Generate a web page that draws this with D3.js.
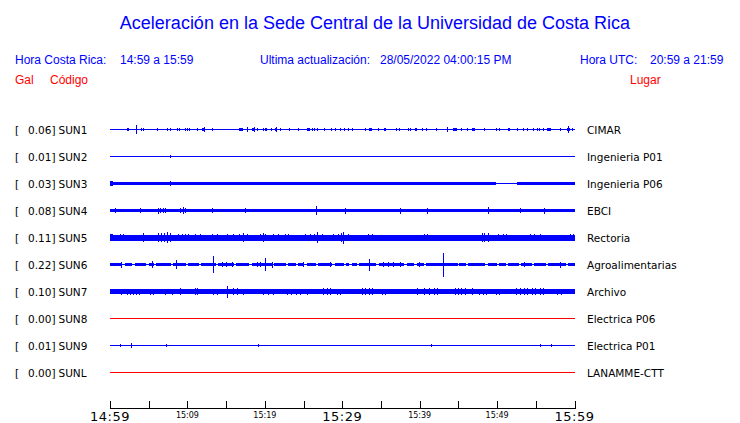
<!DOCTYPE html>
<html><head><meta charset="utf-8">
<script src="https://cdn.jsdelivr.net/npm/d3@7"></script>
<style>
html,body{margin:0;padding:0;background:#fff;}
svg{display:block;}
</style></head>
<body>
<script>
// ---------- DATA ----------
const title = "Aceleración en la Sede Central de la Universidad de Costa Rica";
const header = {
  crLabel: "Hora Costa Rica:", crRange: "14:59 a 15:59",
  updLabel: "Ultima actualización:", updValue: "28/05/2022 04:00:15 PM",
  utcLabel: "Hora UTC:", utcRange: "20:59 a 21:59"
};
const colHeads = ["Gal", "Código", "Lugar"];

const codes  = ["SUN1","SUN2","SUN3","SUN4","SUN5","SUN6","SUN7","SUN8","SUN9","SUNL"];
const places = ["CIMAR","Ingenieria P01","Ingenieria P06","EBCI","Rectoria","Agroalimentarias","Archivo","Electrica P06","Electrica P01","LANAMME-CTT"];
const peaks  = ["0.06","0.01","0.03","0.08","0.11","0.22","0.10","0.00","0.01","0.00"];
const traceColors = ["blue","blue","blue","blue","blue","blue","blue","red","blue","red"];

// time axis in minutes after 14:59
const tickMinutes = [0,5,10,15,20,25,30,35,40,45,50,55,60];
const bigLabels   = [[0,"14:59"],[30,"15:29"],[60,"15:59"]];
const smallLabels = [[10,"15:09"],[20,"15:19"],[40,"15:39"],[50,"15:49"]];

// background noise band per station: [startMin, endMin, amplitude (gal)]
const sun1Band = [[0,60,0.018]];
const sun2Band = [[0,60,0.005]];
const sun3Band = [[0,49.9,0.036],[49.9,52.6,0.007],[52.6,60,0.036]];
const sun4Band = [[0,60,0.035]];
const sun5Band = [[0,60,0.055]];
const sun6Band = [[0,1.6,0.03],[1.9,2.9,0.03],[3.2,4.7,0.03],[5.0,5.7,0.03],[6.0,7.9,0.03],[8.2,9.8,0.03],[10.1,11.5,0.03],[11.8,13.7,0.03],[14.0,16.0,0.03],[16.3,18.0,0.03],[18.3,20.9,0.03],[21.2,22.7,0.03],[23.0,24.0,0.03],[24.3,25.1,0.03],[25.4,26.6,0.03],[26.9,28.7,0.03],[29.0,30.2,0.03],[30.5,30.9,0.03],[31.2,31.9,0.03],[32.2,34.4,0.03],[34.7,38.0,0.03],[38.3,39.3,0.03],[39.6,40.5,0.03],[40.8,44.8,0.03],[45.1,46.0,0.03],[46.3,48.5,0.03],[48.8,50.0,0.03],[50.3,51.1,0.03],[51.4,52.8,0.03],[53.1,54.5,0.03],[54.8,56.3,0.03],[56.6,58.9,0.03],[59.2,60,0.03],[0,60,0.005]];
const sun7Band = [[0,60,0.042]];
const sun8Band = [[0,60,0.004]];
const sun9Band = [[0,60,0.004]];
const sunLBand = [[0,60,0.004]];

// transient events per station: [startMin, endMin, amplitude (gal)]
const sun1Events = [[0.1,0.4,0.015],[2.2,2.5,0.03],[3.4,3.4,0.075],[4.0,4.0,0.025],[4.3,4.3,0.025],[6.1,6.1,0.025],[7.4,7.4,0.025],[7.7,7.7,0.025],[8.6,8.6,0.025],[8.9,8.9,0.025],[9.7,9.7,0.025],[9.9,9.9,0.025],[10.2,10.2,0.025],[11.2,11.2,0.025],[11.9,12.1,0.03],[12.1,12.1,0.05],[13.2,13.2,0.025],[16.6,17.2,0.03],[17.7,17.7,0.05],[18.3,18.6,0.035],[18.6,18.6,0.045],[19.0,19.0,0.025],[19.7,19.7,0.025],[20.0,20.3,0.03],[20.8,20.8,0.025],[21.3,21.5,0.035],[21.5,21.5,0.045],[21.9,21.9,0.03],[23.1,23.1,0.025],[24.3,24.3,0.025],[25.5,25.8,0.03],[26.1,26.1,0.025],[26.3,26.3,0.025],[26.7,26.7,0.025],[27.6,27.6,0.025],[28.5,28.5,0.025],[29.0,29.0,0.025],[29.7,29.7,0.025],[30.2,30.2,0.025],[30.8,30.8,0.025],[31.2,31.2,0.025],[32.9,32.9,0.025],[33.4,33.8,0.03],[34.6,34.6,0.025],[35.4,35.6,0.03],[36.9,36.9,0.025],[37.3,37.3,0.025],[38.5,38.5,0.025],[38.8,38.8,0.025],[39.4,39.6,0.03],[40.3,40.3,0.025],[40.8,40.9,0.03],[42.1,42.1,0.025],[43.5,43.5,0.05],[44.3,44.8,0.03],[45.4,45.4,0.025],[46.1,46.3,0.03],[46.8,47.1,0.03],[48.3,48.3,0.025],[49.9,49.9,0.025],[50.2,50.2,0.025],[51.4,51.4,0.025],[51.5,51.5,0.025],[52.6,52.6,0.025],[53.4,53.4,0.025],[53.9,53.9,0.025],[54.7,54.7,0.025],[55.1,55.1,0.025],[55.4,55.4,0.025],[55.9,55.9,0.025],[56.5,56.9,0.03],[58.1,58.1,0.025],[59.0,59.4,0.03],[59.1,59.1,0.06],[59.7,59.7,0.025]];
const sun2Events = [[7.7,7.7,0.02]];
const sun3Events = [[0,0.4,0.046],[7.7,7.7,0.05]];
const sun4Events = [[0.6,0.6,0.045],[3.9,3.9,0.045],[6.2,6.2,0.055],[6.5,6.5,0.05],[6.8,6.8,0.05],[7.1,7.1,0.045],[9.0,9.0,0.05],[9.4,9.4,0.06],[9.7,9.7,0.05],[13.2,13.2,0.045],[17.5,17.5,0.045],[26.6,26.6,0.075],[30.3,30.3,0.055],[37.4,37.4,0.055],[40.9,40.9,0.055],[48.8,48.8,0.065],[52.9,52.9,0.05],[56.1,56.1,0.055]];
const sun5Events = [[0,0.4,0.06],[1.3,1.3,0.065],[1.7,1.7,0.065],[4.3,4.3,0.075],[6.2,6.2,0.075],[6.6,6.6,0.08],[7.0,7.0,0.075],[7.4,7.4,0.1],[7.7,7.7,0.08],[8.8,8.8,0.07],[9.3,9.3,0.065],[9.7,9.7,0.07],[10.1,10.1,0.065],[11.0,11.0,0.065],[11.6,11.6,0.06],[13.2,13.2,0.07],[13.8,13.8,0.065],[15.1,15.1,0.065],[15.9,15.9,0.065],[16.6,16.6,0.065],[17.2,17.2,0.075],[17.7,17.7,0.065],[19.4,19.4,0.07],[19.7,19.7,0.085],[20.0,20.0,0.07],[21.0,21.0,0.065],[21.7,21.7,0.065],[22.6,22.6,0.06],[23.0,23.0,0.06],[25.2,25.2,0.065],[25.8,25.8,0.065],[26.4,26.4,0.065],[26.8,26.8,0.095],[27.4,27.4,0.065],[28.8,28.8,0.065],[29.4,29.4,0.065],[29.9,29.9,0.075],[30.1,30.1,0.11],[30.8,30.8,0.065],[33.3,33.3,0.065],[33.9,33.9,0.065],[40.6,40.6,0.06],[41.0,41.0,0.06],[48.0,48.0,0.075],[48.3,48.3,0.085],[48.8,48.8,0.075],[50.1,50.1,0.06],[50.7,50.7,0.06],[51.2,51.2,0.06],[54.2,54.2,0.065],[54.8,54.8,0.065],[55.5,55.5,0.065],[59.4,59.4,0.065],[59.8,59.8,0.06]];
const sun6Events = [[1.4,1.4,0.055],[5.4,5.4,0.064],[8.5,8.5,0.083],[13.3,13.3,0.155],[14.5,14.5,0.037],[15.0,15.0,0.037],[15.7,15.7,0.037],[19.0,19.0,0.037],[19.4,19.4,0.037],[20.0,20.0,0.128],[20.9,20.9,0.055],[24.9,24.9,0.037],[28.4,28.4,0.037],[33.4,33.4,0.11],[35.2,35.2,0.037],[35.9,35.9,0.037],[36.6,36.6,0.037],[37.4,37.4,0.037],[39.9,39.9,0.037],[43.0,43.0,0.22],[44.8,44.8,0.035],[53.5,53.5,0.037],[58.1,58.1,0.055]];
const sun7Events = [[1.4,1.4,0.055],[2.2,2.2,0.055],[2.6,2.6,0.055],[3.0,3.0,0.055],[3.4,3.4,0.055],[3.7,3.7,0.055],[5.2,5.2,0.055],[5.5,5.5,0.055],[7.1,7.1,0.055],[8.0,8.0,0.055],[9.0,9.0,0.06],[11.0,11.0,0.06],[11.2,11.2,0.06],[13.3,13.3,0.055],[13.8,13.8,0.055],[15.1,15.1,0.11],[15.9,15.9,0.06],[16.4,16.4,0.06],[17.2,17.2,0.055],[19.7,19.7,0.055],[20.4,20.4,0.055],[21.0,21.0,0.055],[22.8,22.8,0.055],[23.4,23.4,0.055],[24.0,24.0,0.055],[24.5,24.5,0.055],[25.5,25.5,0.055],[27.5,27.5,0.065],[28.0,28.0,0.065],[28.4,28.4,0.065],[29.3,29.3,0.055],[29.7,29.7,0.055],[32.5,32.5,0.06],[33.0,33.0,0.06],[33.4,33.4,0.06],[33.9,33.9,0.06],[35.1,35.1,0.055],[35.5,35.5,0.055],[39.7,39.7,0.065],[40.6,40.6,0.06],[41.2,41.2,0.06],[41.8,41.8,0.06],[42.2,42.2,0.06],[44.5,44.5,0.06],[45.0,45.0,0.06],[45.4,45.4,0.06],[45.8,45.8,0.06],[46.7,46.7,0.065],[47.7,47.7,0.055],[48.2,48.2,0.055],[48.6,48.6,0.055],[49.9,49.9,0.055],[50.3,50.3,0.055],[52.5,52.5,0.06],[52.9,52.9,0.06],[53.5,53.5,0.06],[53.9,53.9,0.06],[54.5,54.5,0.06],[54.9,54.9,0.06],[55.5,55.5,0.06],[55.9,55.9,0.06],[57.7,57.7,0.055],[58.3,58.3,0.055]];
const sun8Events = [];
const sun9Events = [[1.3,1.3,0.028],[2.7,2.7,0.037],[6.5,6.5,0.018],[7.2,7.2,0.028],[7.7,7.7,0.018],[19.1,19.1,0.02],[41.5,41.5,0.02],[55.5,55.5,0.02],[56.9,56.9,0.02]];
const sunLEvents = [];

const bands  = [sun1Band,sun2Band,sun3Band,sun4Band,sun5Band,sun6Band,sun7Band,sun8Band,sun9Band,sunLBand];
const events = [sun1Events,sun2Events,sun3Events,sun4Events,sun5Events,sun6Events,sun7Events,sun8Events,sun9Events,sunLEvents];

// ---------- DRAW ----------
const W = 740, H = 423;
const svg = d3.select("body").append("svg").attr("width", W).attr("height", H);
const BLUE = "#0000ff", RED = "#ff0000";
const HF = "'Liberation Sans', Arial, sans-serif";
const DF = "'DejaVu Sans', sans-serif";

svg.append("text").attr("x", 375).attr("y", 29).attr("text-anchor","middle")
  .attr("font-family", HF).attr("font-size", 18).attr("fill", BLUE).text(title);

const hdr = [[15,header.crLabel],[120,header.crRange],[260,header.updLabel],[380,header.updValue],[580,header.utcLabel],[650,header.utcRange]];
svg.selectAll("text.hdr").data(hdr).join("text").attr("class","hdr")
  .attr("x", d=>d[0]).attr("y", 64).attr("font-family", HF).attr("font-size", 12)
  .attr("fill", BLUE).text(d=>d[1]);

const heads = [[15,colHeads[0]],[50,colHeads[1]],[630,colHeads[2]]];
svg.selectAll("text.col").data(heads).join("text").attr("class","col")
  .attr("x", d=>d[0]).attr("y", 84).attr("font-family", HF).attr("font-size", 12)
  .attr("fill", RED).text(d=>d[1]);

const x = d3.scaleLinear().domain([0,60]).range([110, 574.5]);
const y = d3.scalePoint().domain(codes).range([129.5, 372.5]);
const amp = d3.scaleLinear().domain([0,0.22]).range([0,12]);

const rows = svg.append("g").selectAll("g").data(codes).join("g");
rows.append("text").attr("x", 15).attr("y", c=>y(c)+4.5).attr("font-family", DF).attr("font-size", 10.5).text("[");
rows.append("text").attr("x", 55.5).attr("y", c=>y(c)+4.5).attr("text-anchor","end").attr("font-family", DF).attr("font-size", 10.5).text((c,i)=>peaks[i]+"]");
rows.append("text").attr("x", 58.5).attr("y", c=>y(c)+4.5).attr("font-family", DF).attr("font-size", 10.5).text(c=>c);
rows.append("text").attr("x", 587).attr("y", c=>y(c)+4.5).attr("font-family", DF).attr("font-size", 10.5).text((c,i)=>places[i]);

function drawSeg(g, segs, yc, col){
  g.selectAll(null).data(segs).join("rect")
    .attr("x", d=>x(d[0]))
    .attr("width", d=>Math.max(1, x(d[1])-x(d[0])))
    .attr("y", d=>yc - Math.max(0.5, amp(d[2])))
    .attr("height", d=>Math.max(1, 2*amp(d[2])))
    .attr("fill", col).attr("shape-rendering","crispEdges");
}
codes.forEach((c,i)=>{
  const g = svg.append("g");
  drawSeg(g, bands[i], y(c), traceColors[i]);
  drawSeg(g, events[i], y(c), traceColors[i]);
});

// time axis
const axY = 408.5;
const axis = svg.append("g").attr("transform", `translate(0,${axY})`);
axis.append("line").attr("x1", x(0)).attr("x2", x(60)).attr("stroke","#000").attr("shape-rendering","crispEdges");
axis.selectAll("line.tk").data(tickMinutes).join("line").attr("class","tk")
  .attr("x1", d=>Math.round(x(d))+0.5).attr("x2", d=>Math.round(x(d))+0.5).attr("y1", -8).attr("y2", 0)
  .attr("stroke","#000").attr("shape-rendering","crispEdges");
axis.selectAll("text.big").data(bigLabels).join("text").attr("class","big")
  .attr("x", d=>x(d[0])).attr("y", 12.5).attr("text-anchor","middle")
  .attr("font-family", DF).attr("font-size", 13).attr("letter-spacing", 0.5).text(d=>d[1]);
axis.selectAll("text.sm").data(smallLabels).join("text").attr("class","sm")
  .attr("x", d=>x(d[0])).attr("y", 9).attr("text-anchor","middle")
  .attr("font-family", DF).attr("font-size", 8).text(d=>d[1]);
</script>
</body></html>
